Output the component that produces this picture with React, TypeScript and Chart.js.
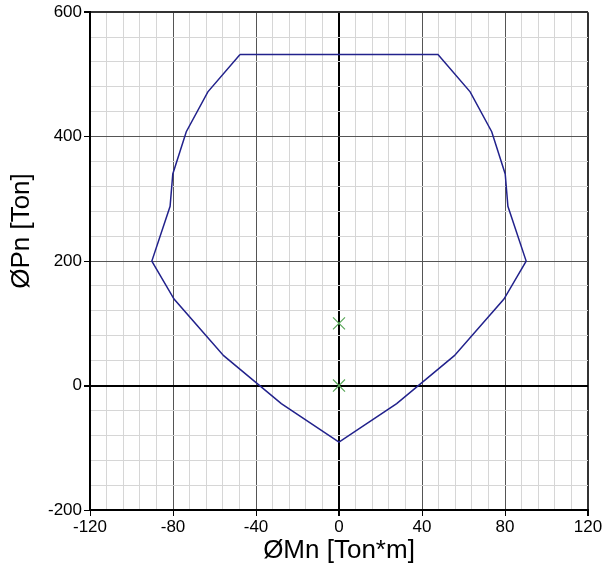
import React, { useEffect, useRef } from "react";
import { Chart, registerables } from "chart.js";

Chart.register(...registerables);

// Interaction diagram: ØMn (moment) vs ØPn (axial load)
const momentValues = [
  -47.7, 47.7, 63.2, 73.6, 80.1, 81.4, 90.2, 79.5, 55.6, 27.8, 0,
  -27.8, -55.6, -79.5, -90.2, -81.4, -80.1, -73.6, -63.2, -47.7,
];
const axialValues = [
  532, 532, 472, 408, 340, 288, 200, 139, 48, -29, -91,
  -29, 48, 139, 200, 288, 340, 408, 472, 532,
];

// Applied load cases
const loadMoments = [0, 0];
const loadAxials = [100, 0];

const xTitle = "ØMn [Ton*m]";
const yTitle = "ØPn [Ton]";

const X_MIN = -120;
const X_MAX = 120;
const X_STEP = 8;
const X_MAJOR = 40;
const Y_MIN = -200;
const Y_MAX = 600;
const Y_STEP = 40;
const Y_MAJOR = 200;

const FONT = "'Liberation Sans', Arial, sans-serif";

const axisTitles = {
  id: "axisTitles",
  afterDraw(chart: Chart) {
    const { ctx, chartArea } = chart;
    ctx.save();
    ctx.fillStyle = "#000";
    ctx.font = `26px ${FONT}`;
    ctx.textAlign = "center";
    ctx.textBaseline = "middle";
    ctx.fillText(xTitle, (chartArea.left + chartArea.right) / 2, 551);
    ctx.translate(22, 231);
    ctx.rotate(-Math.PI / 2);
    ctx.fillText(yTitle, 0, 0);
    ctx.restore();
  },
};

function gridColor(v: number, major: number, max: number) {
  if (v === 0) return "#000";
  if (v === max) return "#333";
  if (v % major === 0) return "#555";
  return "#d6d6d6";
}

function gridWidth(v: number, max: number) {
  if (v === 0 || v === max) return 2;
  return 1;
}

export default function App() {
  const canvasRef = useRef<HTMLCanvasElement | null>(null);

  useEffect(() => {
    if (!canvasRef.current) return;
    const curve = momentValues.map((m, i) => ({ x: m, y: axialValues[i] }));
    const loads = loadMoments.map((m, i) => ({ x: m, y: loadAxials[i] }));

    const chart = new Chart(canvasRef.current, {
      type: "scatter",
      data: {
        datasets: [
          {
            data: curve,
            showLine: true,
            borderColor: "#22228c",
            borderWidth: 1.5,
            pointRadius: 0,
            fill: false,
            tension: 0,
          },
          {
            data: loads,
            showLine: false,
            pointStyle: "crossRot",
            pointRadius: 8.5,
            borderColor: "#5aa85a",
            borderWidth: 1.2,
          },
        ],
      },
      options: {
        animation: false,
        responsive: false,
        layout: { padding: { top: 11, right: 21, left: 0, bottom: 0 } },
        plugins: {
          legend: { display: false },
          tooltip: { enabled: false },
        },
        scales: {
          x: {
            type: "linear",
            min: X_MIN,
            max: X_MAX,
            afterFit: (scale: any) => {
              scale.height = 59;
            },
            ticks: {
              stepSize: X_STEP,
              autoSkip: false,
              maxRotation: 0,
              padding: 1,
              color: "#000",
              font: { family: FONT, size: 17 },
              callback: (v: any) => (Number(v) % X_MAJOR === 0 ? String(v) : ""),
            },
            grid: {
              color: (c: any) => gridColor(c.tick.value, X_MAJOR, X_MAX),
              lineWidth: (c: any) => gridWidth(c.tick.value, X_MAX),
              tickColor: (c: any) =>
                c.tick.value % X_MAJOR === 0 ? "#000" : "rgba(0,0,0,0)",
              tickLength: 6,
            },
            border: { color: "#000", width: 2 },
          },
          y: {
            type: "linear",
            min: Y_MIN,
            max: Y_MAX,
            afterFit: (scale: any) => {
              scale.width = 90;
            },
            ticks: {
              stepSize: Y_STEP,
              autoSkip: false,
              padding: 2,
              color: "#000",
              font: { family: FONT, size: 17 },
              callback: (v: any) => (Number(v) % Y_MAJOR === 0 ? String(v) : ""),
            },
            grid: {
              color: (c: any) => gridColor(c.tick.value, Y_MAJOR, Y_MAX),
              lineWidth: (c: any) => gridWidth(c.tick.value, Y_MAX),
              tickColor: (c: any) =>
                c.tick.value % Y_MAJOR === 0 ? "#000" : "rgba(0,0,0,0)",
              tickLength: 6,
            },
            border: { color: "#000", width: 2 },
          },
        },
      },
      plugins: [axisTitles],
    });
    return () => chart.destroy();
  }, []);

  return (
    <div style={{ position: "fixed", left: 0, top: 0, width: 609, height: 569, background: "#fff" }}>
      <canvas ref={canvasRef} width={609} height={569} />
    </div>
  );
}
